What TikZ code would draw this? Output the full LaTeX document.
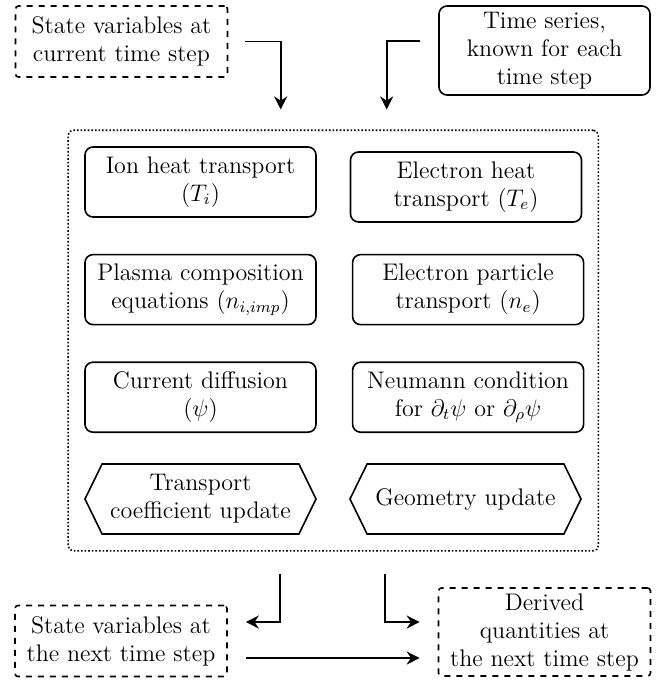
\documentclass[tikz,border=0pt]{standalone}
\usepackage{amsmath}
\usepackage{tikz}
\usetikzlibrary{
  arrows.meta,
  positioning,
  fit,
  shapes.symbols
}
\tikzset{
  statebox/.style={draw,dashed,thick,rounded corners=1.5pt,minimum width=106pt,minimum height=35.5pt,align=center,font=\large,inner sep=2pt},
  seriesbox/.style={draw,thick,rounded corners=4pt,minimum width=105.5pt,minimum height=44.5pt,align=center,font=\large,inner sep=2pt},
  eqnode/.style={draw,thick,rounded corners=4pt,minimum width=115.5pt,minimum height=35pt,align=center,font=\large,inner sep=2pt},
  updnode/.style={draw,thick,signal,signal to=west and east,signal pointer angle=128,minimum width=115.5pt,minimum height=35pt,align=center,font=\large,inner sep=1pt},
  solverframe/.style={draw,densely dotted,thick,rounded corners=2.5pt,inner sep=8pt},
  flowarrow/.style={-{Stealth[length=6.5pt,width=6.5pt]},thick}
}

\begin{document}
\begin{tikzpicture}[x=0.5pt,y=-0.5pt]
\useasboundingbox (0,0) rectangle (666,682);

% inputs
\node[statebox] (statenow) at (121.5,41.5) {State variables at\\current time step};
\node[seriesbox] (series) at (544.5,50.5) {Time series,\\known for each\\time step};

% solver block
\node[eqnode] (ionheat) at (200.5,182) {Ion heat transport\\$(T_i)$};
\node[eqnode] (elheat) at (466,187) {Electron heat\\transport $(T_e)$};
\node[eqnode, below=18pt of ionheat] (plasma) {Plasma composition\\equations $(n_{i,imp})$};
\node[eqnode, right=17.5pt of plasma] (elpart) {Electron particle\\transport $(n_e)$};
\node[eqnode, below=18pt of plasma] (current) {Current diffusion\\$(\psi)$};
\node[eqnode, right=17.5pt of current] (neumann) {Neumann condition\\for $\partial_t\psi$ or $\partial_\rho\psi$};
\node[updnode] (coefupd) at (200.5,499) {Transport\\coefficient update};
\node[updnode] (geomupd) at (465.5,499) {Geometry update};
\node[solverframe, fit=(ionheat)(elheat)(coefupd)(geomupd)] (solver) {};

% outputs
\node[statebox] (statenext) at (121,641) {State variables at\\the next time step};
\node[statebox, minimum height=44pt] (derived) at (544.5,632) {Derived\\quantities at\\the next time step};

\draw[flowarrow] ([xshift=8.5pt]statenow.east) -| ([xshift=-26.25pt,yshift=10pt]solver.north);
\draw[flowarrow] ([xshift=-9pt,yshift=4.75pt]series.west) -| ([xshift=26.75pt,yshift=10pt]solver.north);
\draw[flowarrow] ([xshift=-26.75pt,yshift=-11pt]solver.south) |- ([xshift=9pt,yshift=9.5pt]statenext.east);
\draw[flowarrow] ([xshift=25.75pt,yshift=-11pt]solver.south) |- ([xshift=-9pt,yshift=5pt]derived.west);
\draw[flowarrow] ([xshift=9pt,yshift=-8.5pt]statenext.east) -- ([xshift=-9pt,yshift=-13pt]derived.west);
\end{tikzpicture}
\end{document}
